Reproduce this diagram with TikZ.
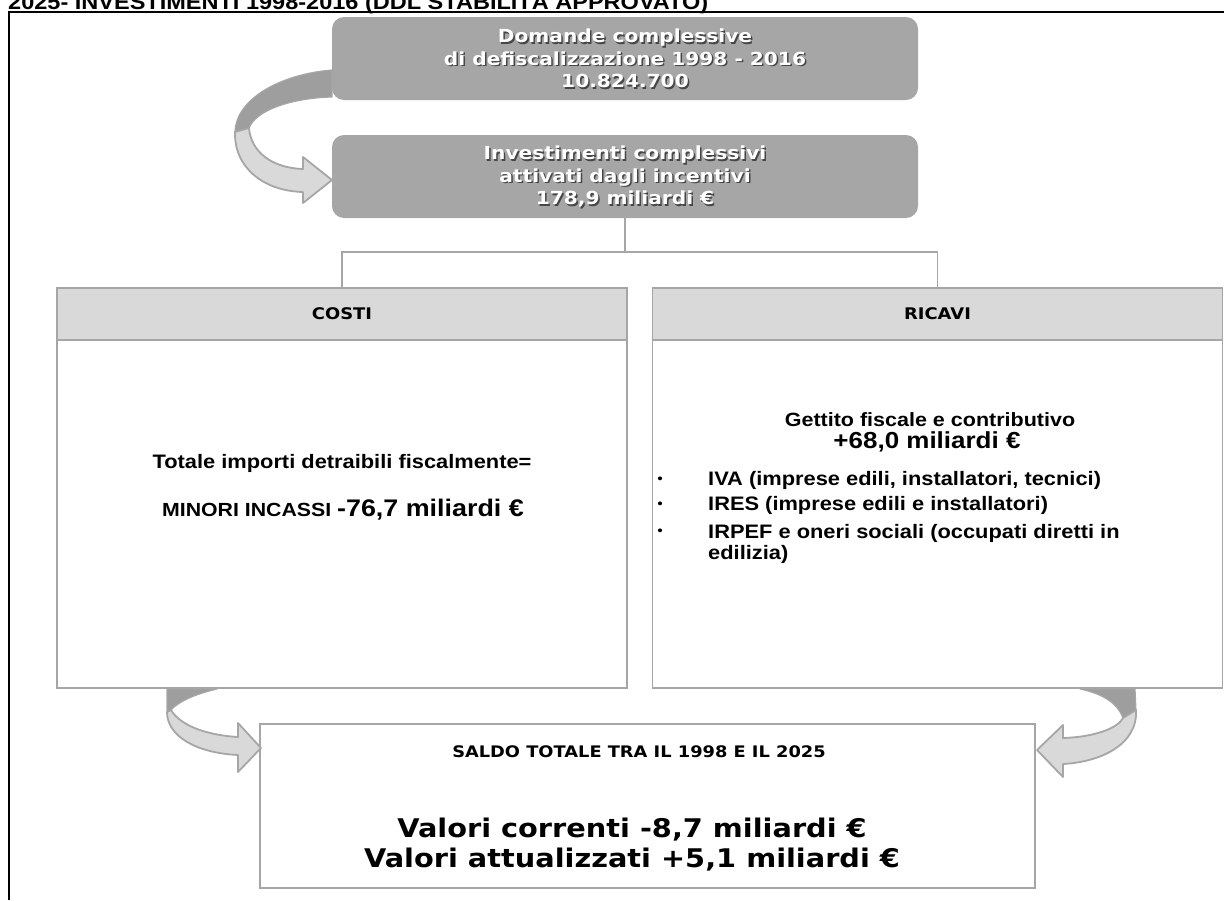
\documentclass[tikz,border=0pt]{standalone}
\usepackage{fontspec}
\setmainfont[FakeStretch=1.12]{Liberation Sans}
\newfontfamily\heavyfont[FakeStretch=1.12]{DejaVu Sans}
\usetikzlibrary{positioning}

\definecolor{boxgray}{RGB}{166,166,166}
\definecolor{headgray}{RGB}{217,217,217}
\definecolor{edgegray}{RGB}{166,166,166}
\definecolor{backgray}{RGB}{158,158,158}
\definecolor{shadowgray}{RGB}{70,70,70}

\newcommand{\pxsize}[2]{\fontsize{#1}{#2}\selectfont}

\tikzset{
  topbox/.style={rounded corners=12pt, fill=boxgray, minimum width=586pt, minimum height=83pt, inner sep=0pt},
  toptext/.style={text=white, align=center, inner sep=0pt, font=\heavyfont\bfseries\pxsize{18}{22.5}},
  topshadow/.style={toptext, text=shadowgray},
  panel/.style={draw=edgegray, line width=1.5pt, fill=white, minimum width=570pt, minimum height=400pt, inner sep=0pt},
  panelhead/.style={draw=edgegray, line width=1.5pt, fill=headgray, minimum width=570pt, minimum height=52pt, inner sep=0pt, font=\heavyfont\bfseries\pxsize{16}{18}},
  conn/.style={draw=edgegray, line width=1.5pt},
  curlback/.style={fill=backgray, draw=edgegray, line width=1.2pt, line join=round},
  curlfront/.style={fill=headgray, draw=edgegray, line width=1.8pt, line join=round},
  bodytext/.style={inner sep=0pt, font=\bfseries\pxsize{19.5}{22}},
}

\begin{document}
\begin{tikzpicture}[x=1pt,y=1pt,yscale=-1,xscale=1]
\useasboundingbox (0,0) rectangle (1224,900);
\clip (0,0) rectangle (1224,900);

% Title (cut at the top)
\node [anchor=base west, inner sep=0pt, font=\bfseries\pxsize{21}{21}] (title) at (8,9.5) {2025- INVESTIMENTI 1998-2016 (DDL STABILITÀ APPROVATO)};
% Frame
\draw [line width=2pt] (8.5,900) -- (8.5,12) -- (1224,12);

% Top boxes
\node [topbox] (dom) at (625,58.5) {};
\node [topshadow] at (626.5,60) {Domande complessive\\di defiscalizzazione 1998 - 2016\\10.824.700};
\node [toptext] (domtxt) at (625,58.5) {Domande complessive\\di defiscalizzazione 1998 - 2016\\10.824.700};
\node [topbox] (inv) at (625,176.5) {};
\node [topshadow] at (626.5,178) {Investimenti complessivi\\attivati dagli incentivi\\178,9 miliardi €};
\node [toptext] (invtxt) at (625,176.5) {Investimenti complessivi\\attivati dagli incentivi\\178,9 miliardi €};

% Panels
\node [panel] (costi) at (342,488) {};
\node [panelhead, anchor=north] (costitop) at (costi.north) {COSTI};
\node [panel] (ricavi) at (937.5,488) {};
\node [panelhead, anchor=north] (ricavitop) at (ricavi.north) {RICAVI};
\node [panel, minimum width=775pt, minimum height=164pt] (saldo) at (647.5,806) {};

% Connectors
\draw [conn] (inv.south) -- ++(0,34) coordinate (hub);
\draw [conn] (costi.north) |- (hub) -| (ricavi.north);

% Text Node
\node [bodytext] (totale) at (342,463) {Totale importi detraibili fiscalmente=};
% Text Node
\node [bodytext] (minori) at (343,510) {\pxsize{19}{21}MINORI INCASSI \pxsize{24}{28}-76,7 miliardi €};
% Text Node
\node [bodytext, font=\bfseries\pxsize{19.2}{22}] (gettito) at (930,420) {Gettito fiscale e contributivo};
% Text Node
\node [bodytext, font=\bfseries\pxsize{23.2}{26}] (piu) at (927,442) {+68,0 miliardi €};
% Bullets
\foreach \yy in {480,505,532}
  \node [inner sep=0pt, font=\pxsize{14}{14}] at (660,\yy) {•};
\node [bodytext, anchor=west] (iva) at (708,480) {IVA (imprese edili, installatori, tecnici)};
\node [bodytext, anchor=west] (ires) at (708,505) {IRES (imprese edili e installatori)};
\node [bodytext, anchor=north west, align=left, font=\bfseries\pxsize{19.5}{21}] (irpef) at (708,524) {IRPEF e oneri sociali (occupati diretti in\\edilizia)};

% Text Node
\node [inner sep=0pt, font=\heavyfont\bfseries\pxsize{15.9}{18}] (saldotit) at (639,752) {SALDO TOTALE TRA IL 1998 E IL 2025};
% Text Node
\node [inner sep=0pt, align=center, font=\heavyfont\bfseries\pxsize{25.7}{30}] (valori) at (632,845) {Valori correnti -8,7 miliardi €\\Valori attualizzati +5,1 miliardi €};

%Shape: Curved arrow (top)
\draw [curlback] (332,70) .. controls (282,74) and (236,98) .. (235,132) -- (249,128) .. controls (256,110) and (292,98) .. (332,97) -- cycle;
\draw [curlfront] (235,132) .. controls (234,168) and (264,191) .. (303,192) -- (303,203) -- (332,180) -- (303,157) -- (303,169) .. controls (272,168) and (251,152) .. (249,128) -- cycle;

%Shape: Curved arrow (bottom left)
\draw [curlback] (167,689) -- (217,689) .. controls (195,694) and (178,702) .. (171,710) -- (167,713) -- cycle;
\draw [curlfront] (167,712) .. controls (167,736) and (196,753) .. (238,755) -- (238,772) -- (261,748) -- (238,723) -- (238,737) .. controls (205,735) and (180,725) .. (171,710) -- cycle;

%Shape: Curved arrow (bottom right)
\draw [curlback] (1080,689) -- (1135,689) -- (1136,711) -- (1123,718) .. controls (1118,704) and (1104,694) .. (1080,689) -- cycle;
\draw [curlfront] (1136,710) .. controls (1138,745) and (1100,762) .. (1063,764) -- (1063,777) -- (1037,750) -- (1063,725) -- (1063,738) .. controls (1095,737) and (1118,728) .. (1123,718) -- cycle;

\end{tikzpicture}
\end{document}
